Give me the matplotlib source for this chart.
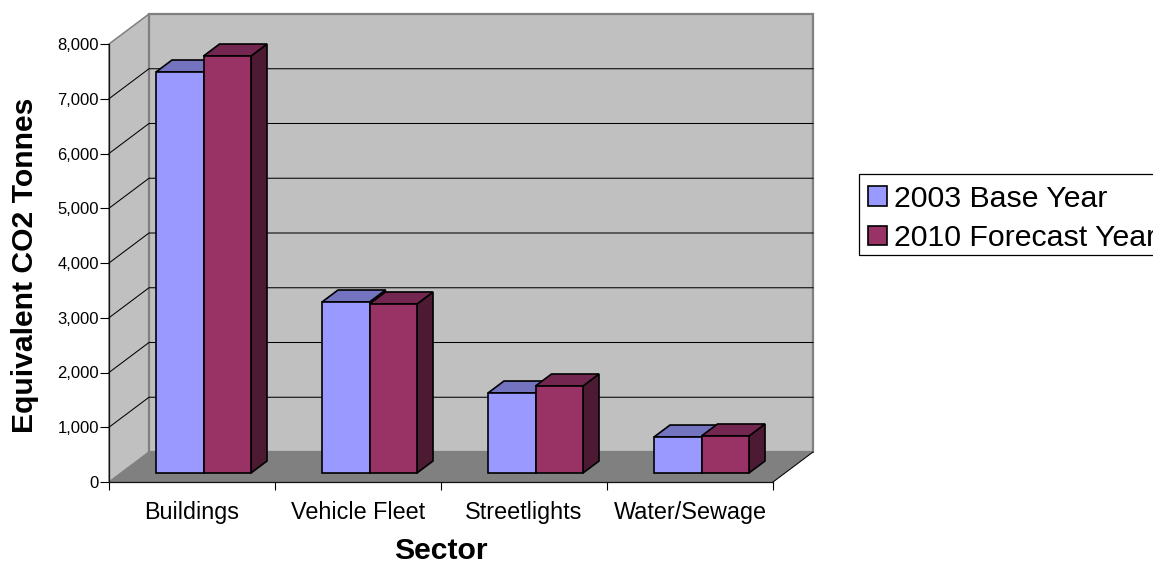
import matplotlib
matplotlib.use("Agg")
import matplotlib.pyplot as plt
from matplotlib.patches import Polygon, Patch, Rectangle

plt.rcParams['font.family'] = ['Liberation Sans', 'DejaVu Sans']

categories = ["Buildings", "Vehicle Fleet", "Streetlights", "Water/Sewage"]
series_names = ["2003 Base Year", "2010 Forecast Year"]
base_2003 = [7324, 3123, 1461, 657]
forecast_2010 = [7616, 3087, 1589, 676]
y_ticks = [0, 1000, 2000, 3000, 4000, 5000, 6000, 7000, 8000]

W, H = 1153, 562
L, R, B, T = 109, 773, 482, 44     # front plane in pixels
fig = plt.figure(figsize=(W / 100, H / 100), dpi=100, facecolor='white')
ax = fig.add_axes([L / W, 1 - B / H, (R - L) / W, (B - T) / H])
ax.set_xlim(0, len(categories))
ax.set_ylim(0, 8000)
ax.patch.set_visible(False)

sx = len(categories) / (R - L)     # data units per pixel
sy = 8000 / (B - T)
DX, DY = 40 * sx, 30 * sy          # wall depth
WALL, FLOOR, EDGE = '#C0C0C0', '#808080', '#808080'
xmax = len(categories)


def poly(pts, fc, ec='black', lw=1.0, z=1, **kw):
    ax.add_patch(Polygon(pts, closed=True, facecolor=fc, edgecolor=ec, linewidth=lw,
                         zorder=z, clip_on=False, joinstyle='miter', **kw))


# walls and floor
poly([(0, 0), (DX, DY), (DX, 8000 + DY), (0, 8000)], WALL, EDGE, 1.1, 1)
poly([(DX, DY), (xmax + DX, DY), (xmax + DX, 8000 + DY), (DX, 8000 + DY)], WALL, EDGE, 1.6, 1)
poly([(0, 0), (DX, DY), (xmax + DX, DY), (xmax, 0)], FLOOR, 'none', 0, 2)

# gridlines on both walls
for t in y_ticks[1:-1]:
    ax.plot([0, DX, xmax + DX], [t, t + DY, t + DY], color='black', lw=0.75,
            zorder=3, clip_on=False)
# floor edges
ax.plot([xmax, xmax + DX], [0, DY], color='black', lw=0.75, zorder=3, clip_on=False)

# bars
BAR_W = 47.5 * sx
GAP = 35 * sx
OX, OY = 12 * sx, 9 * sy           # bar offset from the front plane
BX, BY = 16 * sx, 12 * sy          # bar depth
styles = [('#9999FF', '#7373BF', '#4D4D80'), ('#993366', '#732650', '#4D1A33')]
z = 5
for i in range(len(categories)):
    for j, vals in enumerate([base_2003, forecast_2010]):
        x0 = i + GAP + OX + j * BAR_W
        x1 = x0 + BAR_W
        y0 = OY
        y1 = OY + vals[i]
        front, top, side = styles[j]
        poly([(x1, y0), (x1 + BX, y0 + BY), (x1 + BX, y1 + BY), (x1, y1)], side, 'black', 1.2, z)
        poly([(x0, y1), (x0 + BX, y1 + BY), (x1 + BX, y1 + BY), (x1, y1)], top, 'black', 1.2, z + 0.1)
        poly([(x0, y0), (x1, y0), (x1, y1), (x0, y1)], front, 'black', 1.2, z + 0.2)
        z += 1

# axes
for s in ('top', 'right'):
    ax.spines[s].set_visible(False)
for s in ('left', 'bottom'):
    ax.spines[s].set_linewidth(0.9)
    ax.spines[s].set_color('#111111')
    ax.spines[s].set_zorder(4)
ax.set_yticks(y_ticks)
ax.set_yticklabels([f"{v:,}" for v in y_ticks], fontsize=12)
ax.tick_params(axis='y', length=6.5, width=0.8, pad=0.8)
ax.set_xticks(range(len(categories) + 1))
ax.set_xticklabels([])
ax.tick_params(axis='x', which='major', length=6, width=0.8)
ax.set_xticks([i + 0.5 for i in range(len(categories))], minor=True)
ax.set_xticklabels(categories, minor=True, fontsize=16.8)
ax.tick_params(axis='x', which='minor', length=0, pad=14)

ax.set_xlabel("Sector", fontsize=21.7, fontweight='bold')
ax.xaxis.set_label_coords((441 - L) / (R - L), -(551 - B) / (B - T), transform=ax.transAxes)
ax.xaxis.label.set_verticalalignment('center')
ax.set_ylabel("Equivalent CO2 Tonnes", fontsize=21.7, fontweight='bold')
ax.yaxis.set_label_coords(-(L - 25) / (R - L), (B - 265) / (B - T), transform=ax.transAxes)
ax.yaxis.label.set_verticalalignment('center')

fig.add_artist(Rectangle((859 / W, 1 - 255 / H), 320 / W, 81 / H, transform=fig.transFigure,
                         facecolor='white', edgecolor='black', linewidth=0.9, zorder=1))
handles = [Patch(facecolor=styles[0][0], edgecolor='black', linewidth=1.2),
           Patch(facecolor=styles[1][0], edgecolor='black', linewidth=1.2)]
leg = fig.legend(handles, series_names, loc='upper left',
                 bbox_to_anchor=(859 / W, 1 - 175.5 / H), borderaxespad=0,
                 fontsize=21.8, frameon=False,
                 borderpad=0.3, handlelength=0.63, handleheight=0.63,
                 handletextpad=0.23, labelspacing=0.385)
leg.set_zorder(2)

fig.savefig("out.png", dpi=100)
